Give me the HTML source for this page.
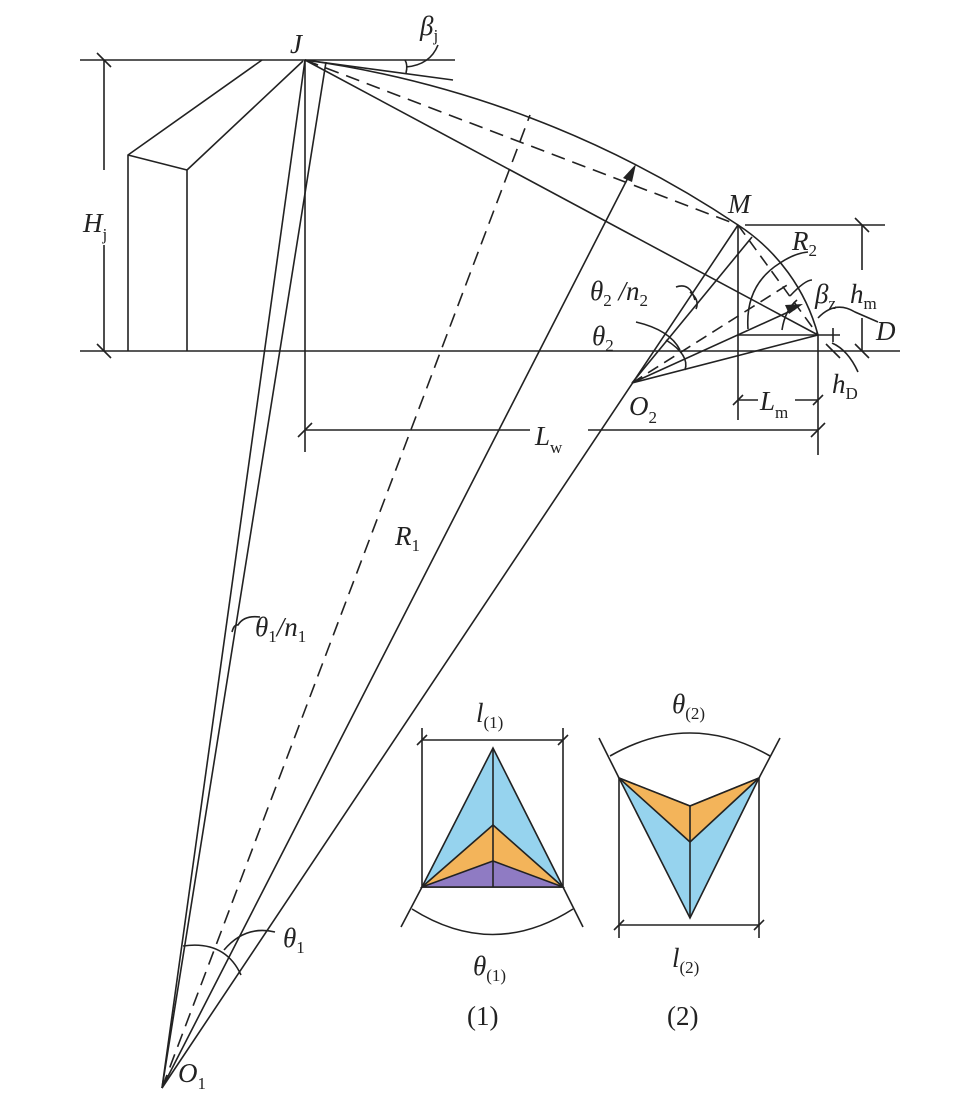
<!DOCTYPE html>
<html><head><meta charset="utf-8"><style>
body{margin:0;background:#fff}
svg{display:block}
text{font-family:"Liberation Serif",serif;fill:#222}
.i{font-style:italic;font-size:27px}
.s{font-style:normal;font-size:17px}
</style></head><body>
<svg width="955" height="1103" viewBox="0 0 955 1103" xmlns="http://www.w3.org/2000/svg">
<g stroke="#222" stroke-width="1.6" fill="none">
<!-- top and ground lines -->
<line x1="80" y1="60" x2="455" y2="60"/>
<line x1="80" y1="351" x2="900" y2="351"/>
<!-- building -->
<polyline points="128,351 128,155 262,60"/>
<polyline points="187,351 187,170 303,61"/>
<line x1="128" y1="155" x2="187" y2="170"/>
<!-- Hj dim -->
<line x1="104" y1="60" x2="104" y2="170"/>
<line x1="104" y1="245" x2="104" y2="351"/>
<line x1="97" y1="53" x2="111" y2="67"/>
<line x1="97" y1="344" x2="111" y2="358"/>
<!-- vertical from J -->
<line x1="305" y1="60" x2="305" y2="452"/>
<!-- lines from J -->
<line x1="305" y1="60" x2="453" y2="80"/>
<line x1="305" y1="60" x2="738" y2="225" stroke-dasharray="14,8"/>
<line x1="305" y1="60" x2="818" y2="335"/>
<!-- arcs -->
<path d="M305,60 A1035,1035 0 0 1 738,225"/>
<path d="M738,225 A190,190 0 0 1 818,335"/>
<!-- beta j arc -->
<path d="M405,60 Q408,65 406,73"/>
<path d="M406,67 Q430,65 438,45"/>
<!-- lines from O1 -->
<line x1="162" y1="1088" x2="305" y2="60"/>
<line x1="162" y1="1088" x2="326" y2="62"/>
<line x1="162" y1="1088" x2="530" y2="115" stroke-dasharray="14,8"/>
<line x1="162" y1="1088" x2="632" y2="170"/>
<line x1="162" y1="1088" x2="738" y2="225"/>
<!-- theta1 arcs -->
<path d="M183,946 Q225,940 241,975"/>
<path d="M224,950 Q245,925 275,932"/>
<path d="M232,632 Q234,624 238,625 Q244,615 260,617"/>
<!-- M area -->
<line x1="738" y1="225" x2="738" y2="420"/>
<line x1="745" y1="225" x2="885" y2="225"/>
<line x1="738" y1="335" x2="840" y2="335"/>
<line x1="818" y1="335" x2="818" y2="455"/>
<line x1="862" y1="225" x2="862" y2="270"/>
<line x1="862" y1="318" x2="862" y2="351"/>
<line x1="855" y1="218" x2="869" y2="232"/>
<line x1="855" y1="344" x2="869" y2="358"/>
<!-- hD ticks -->
<line x1="833" y1="328" x2="833" y2="342"/>
<line x1="826" y1="344" x2="840" y2="358"/>
<path d="M832,343 Q848,350 858,372"/>
<!-- D pointer -->
<path d="M818,318 Q835,300 855,312 L878,322"/>
<!-- lines from O2 -->
<line x1="632" y1="383" x2="752" y2="237"/>
<line x1="632" y1="383" x2="792" y2="282" stroke-dasharray="12,7"/>
<line x1="738" y1="225" x2="818" y2="335" stroke-dasharray="12,7"/>
<line x1="632" y1="383" x2="795" y2="309"/>
<line x1="632" y1="383" x2="818" y2="335"/>
<!-- theta2 arcs -->
<path d="M666,340 Q690,355 685,370"/>
<path d="M636,322 Q670,330 680,350"/>
<path d="M690,292 Q700,300 696,309"/>
<path d="M676,287 Q690,282 695,300"/>
<!-- beta z arcs -->
<path d="M748,329 Q745,285 780,263 Q795,253 808,252"/>
<path d="M782,330 Q785,310 797,300"/>
<path d="M790,296 Q805,280 812,280"/>
<!-- Lm dim -->
<line x1="738" y1="400" x2="758" y2="400"/>
<line x1="795" y1="400" x2="818" y2="400"/>
<line x1="733" y1="405" x2="743" y2="395"/>
<line x1="813" y1="405" x2="823" y2="395"/>
<!-- Lw dim -->
<line x1="305" y1="430" x2="530" y2="430"/>
<line x1="588" y1="430" x2="818" y2="430"/>
<line x1="298" y1="437" x2="312" y2="423"/>
<line x1="811" y1="437" x2="825" y2="423"/>
</g>
<!-- arrowheads -->
<polygon points="636,164 623,178 632,182" fill="#222"/>
<polygon points="803,304 785,305 789,314" fill="#222"/>
<!-- figure 1 -->
<g stroke="#222" stroke-width="1.6">
<polygon points="493,748 422,887 563,887" fill="#96d3ee"/>
<polygon points="493,825 422,887 563,887" fill="#f3b45a"/>
<polygon points="493,861 422,887 563,887" fill="#8f7bc3"/>
<line x1="493" y1="748" x2="493" y2="887"/>
<g fill="none">
<line x1="422" y1="728" x2="422" y2="887"/>
<line x1="563" y1="728" x2="563" y2="887"/>
<line x1="422" y1="740" x2="563" y2="740"/>
<line x1="417" y1="745" x2="427" y2="735"/>
<line x1="558" y1="745" x2="568" y2="735"/>
<line x1="401" y1="927" x2="422" y2="887"/>
<line x1="583" y1="927" x2="563" y2="887"/>
<path d="M412,909 Q493,960 573,909"/>
</g>
</g>
<!-- figure 2 -->
<g stroke="#222" stroke-width="1.6">
<polygon points="619,778 690,806 759,778 690,918" fill="#96d3ee"/>
<polygon points="619,778 690,806 759,778 690,842" fill="#f3b45a"/>
<line x1="690" y1="806" x2="690" y2="918"/>
<g fill="none">
<line x1="619" y1="778" x2="619" y2="938"/>
<line x1="759" y1="778" x2="759" y2="938"/>
<line x1="619" y1="925" x2="759" y2="925"/>
<line x1="614" y1="930" x2="624" y2="920"/>
<line x1="754" y1="930" x2="764" y2="920"/>
<line x1="599" y1="738" x2="619" y2="778"/>
<line x1="780" y1="738" x2="759" y2="778"/>
<path d="M610,756 Q690,710 770,756"/>
</g>
</g>
<!-- labels -->
<text x="290" y="53" class="i">J</text>
<text x="420" y="35" class="i">β<tspan class="s" dy="6">j</tspan></text>
<text x="83" y="232" class="i">H<tspan class="s" dy="8">j</tspan></text>
<text x="728" y="213" class="i">M</text>
<text x="792" y="250" class="i">R<tspan class="s" dy="6">2</tspan></text>
<text x="815" y="303" class="i">β<tspan class="s" dy="6">z</tspan></text>
<text x="850" y="303" class="i">h<tspan class="s" dy="6">m</tspan></text>
<text x="876" y="340" class="i">D</text>
<text x="590" y="300" class="i">θ<tspan class="s" dy="6">2</tspan><tspan dy="-6"> /</tspan>n<tspan class="s" dy="6">2</tspan></text>
<text x="592" y="345" class="i">θ<tspan class="s" dy="6">2</tspan></text>
<text x="629" y="415" class="i">O<tspan class="s" dy="8">2</tspan></text>
<text x="760" y="410" class="i">L<tspan class="s" dy="8">m</tspan></text>
<text x="832" y="393" class="i">h<tspan class="s" dy="6">D</tspan></text>
<text x="535" y="445" class="i">L<tspan class="s" dy="8">w</tspan></text>
<text x="395" y="545" class="i">R<tspan class="s" dy="6">1</tspan></text>
<text x="255" y="636" class="i">θ<tspan class="s" dy="6">1</tspan><tspan dy="-6">/n</tspan><tspan class="s" dy="6">1</tspan></text>
<text x="283" y="947" class="i">θ<tspan class="s" dy="6">1</tspan></text>
<text x="178" y="1082" class="i">O<tspan class="s" dy="7">1</tspan></text>
<text x="476" y="722" class="i">l<tspan class="s" dy="6">(1)</tspan></text>
<text x="473" y="975" class="i">θ<tspan class="s" dy="6">(1)</tspan></text>
<text x="467" y="1025" style="font-size:27px">(1)</text>
<text x="672" y="713" class="i">θ<tspan class="s" dy="6">(2)</tspan></text>
<text x="672" y="967" class="i">l<tspan class="s" dy="6">(2)</tspan></text>
<text x="667" y="1025" style="font-size:27px">(2)</text>
</svg>
</body></html>
